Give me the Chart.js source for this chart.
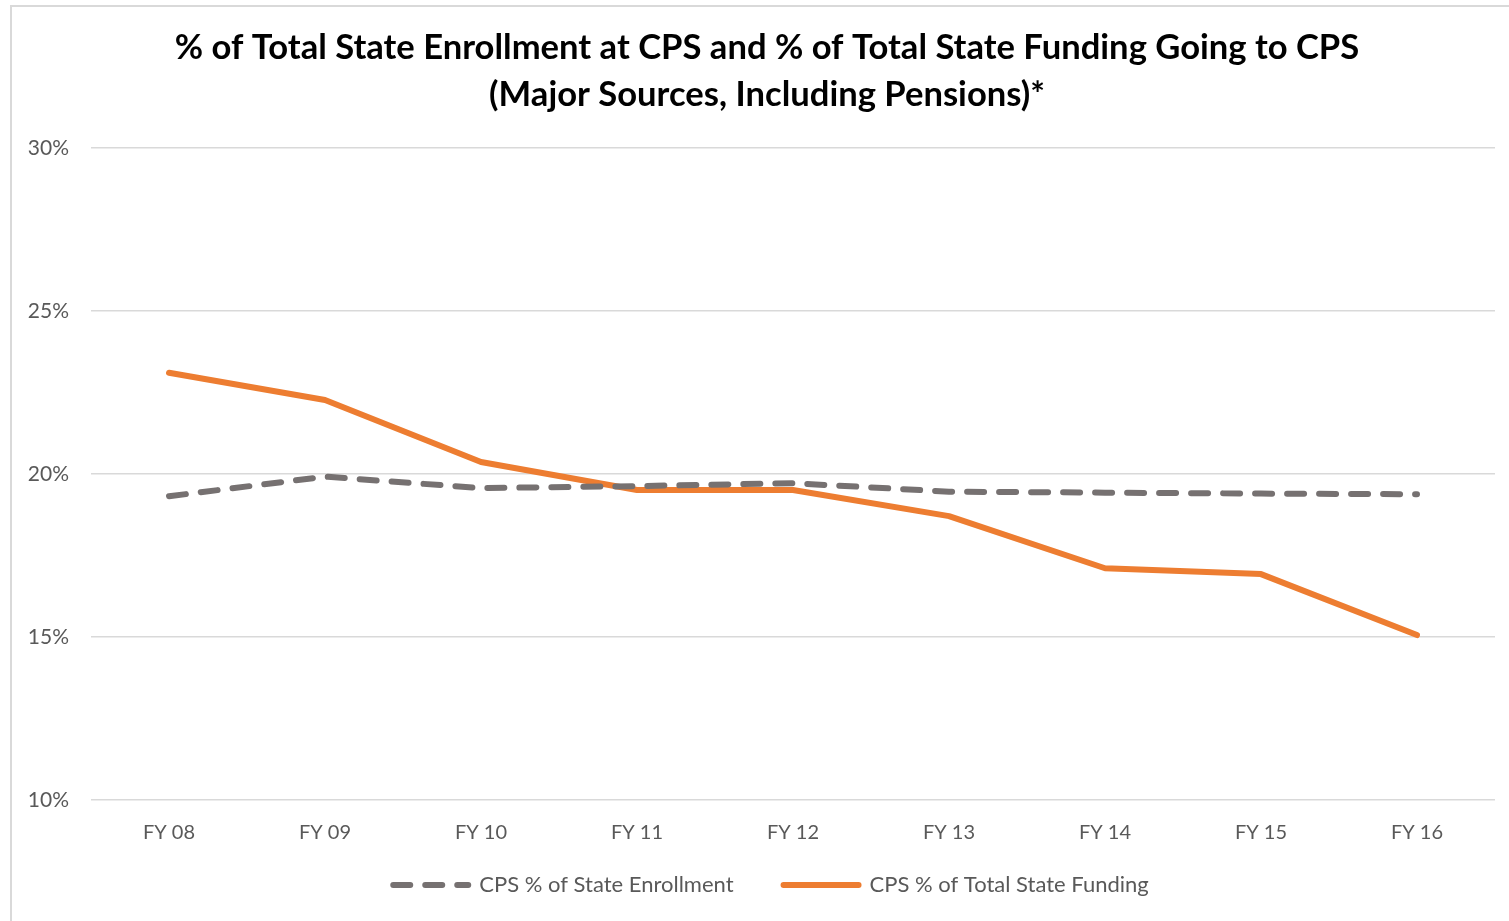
<!DOCTYPE html>
<html><head><meta charset="utf-8">
<script src="https://cdn.jsdelivr.net/npm/chart.js@4"></script>
<style>html,body{margin:0;padding:0;background:#fff;overflow:hidden}#wrap{width:1509px;height:921px;position:relative}</style>
</head><body><div id="wrap"><canvas id="c" width="1509" height="921" style="width:1509px;height:921px"></canvas></div>
<script>
const categories = ['FY 08','FY 09','FY 10','FY 11','FY 12','FY 13','FY 14','FY 15','FY 16'];
const enrollment = [19.32, 19.92, 19.57, 19.63, 19.72, 19.46, 19.43, 19.40, 19.38];
const funding = [23.11, 22.27, 20.37, 19.51, 19.51, 18.71, 17.11, 16.93, 15.06];
const yMin = 10, yMax = 30, yStep = 5;
const titleLines = ['% of Total State Enrollment at CPS and % of Total State Funding Going to CPS', '(Major Sources, Including Pensions)*'];
const seriesNames = ['CPS % of State Enrollment', 'CPS % of Total State Funding'];

const frame = {
  id: 'frame',
  afterLayout(chart) {
    if (chart.legend) { chart.legend.left += 18; chart.legend.right += 18; }
    if (chart.titleBlock) { chart.titleBlock.left += 14; chart.titleBlock.right += 14; }
  },
  beforeDraw(chart) {
    if (chart.scales.x) chart.scales.x._computeLabelArea = function () { return undefined; };
    const ctx = chart.ctx;
    ctx.save();
    ctx.fillStyle = '#fff';
    ctx.fillRect(0, 0, chart.width, chart.height);
    ctx.strokeStyle = '#d9d9d9';
    ctx.lineWidth = 2;
    ctx.beginPath();
    ctx.moveTo(11, chart.height);
    ctx.lineTo(11, 6);
    ctx.lineTo(chart.width, 6);
    ctx.stroke();
    ctx.restore();
  }
};

new Chart(document.getElementById('c'), {
  type: 'line',
  data: {
    labels: categories,
    datasets: [
      { label: seriesNames[0], data: enrollment, borderColor: '#767171', backgroundColor: '#767171',
        borderWidth: 6, borderDash: [17, 15], borderCapStyle: 'round', pointRadius: 0, tension: 0 },
      { label: seriesNames[1], data: funding, borderColor: '#ED7D31', backgroundColor: '#ED7D31',
        borderWidth: 6, borderCapStyle: 'round', borderJoinStyle: 'round', pointRadius: 0, tension: 0 }
    ]
  },
  plugins: [frame],
  options: {
    responsive: false,
    animation: false,
    devicePixelRatio: 1,
    layout: { padding: { left: 11, right: 14, top: 0, bottom: 15 } },
    plugins: {
      title: { display: true, text: titleLines, color: '#000',
        font: { family: 'Lato', weight: 'bold', size: 34.6, lineHeight: 1.36 },
        padding: { top: 24, bottom: 30 } },
      legend: { position: 'bottom',
        labels: { usePointStyle: true, pointStyle: 'line', pointStyleWidth: 75, padding: 50,
          color: '#595959', font: { family: 'Lato', size: 22 },
          generateLabels(chart) {
            const items = Chart.defaults.plugins.legend.labels.generateLabels(chart);
            items.forEach(it => {
              const ds = chart.data.datasets[it.datasetIndex];
              it.lineDash = ds.borderDash || [];
              it.lineCap = 'round';
              it.lineWidth = ds.borderWidth;
              it.strokeStyle = ds.borderColor;
              it.pointStyle = 'line';
            });
            return items;
          } } },
      tooltip: { enabled: false }
    },
    scales: {
      x: { offset: true, grid: { display: false, drawTicks: false }, border: { display: false },
        ticks: { color: '#595959', padding: 20.5, font: { family: 'Lato', size: 20 } },
        afterFit(s) { s.height = 24; } },
      y: { min: yMin, max: yMax,
        grid: { color: '#d9d9d9', lineWidth: 1.5, drawTicks: false }, border: { display: false },
        ticks: { stepSize: yStep, color: '#595959', padding: 22, font: { family: 'Lato', size: 21 },
          callback: v => v + '%' },
        afterFit(s) { s.width = 80; } }
    }
  }
});
</script>
</body></html>
